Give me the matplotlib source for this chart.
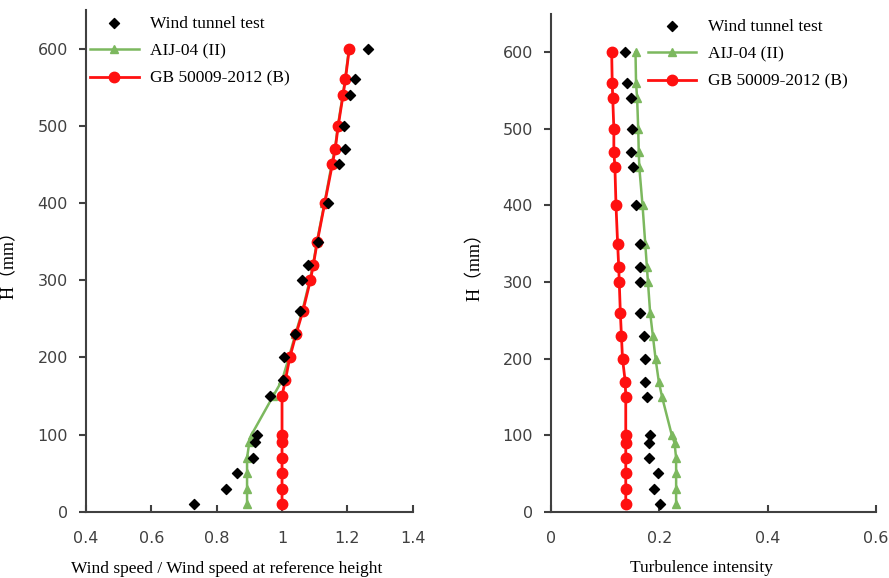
import matplotlib
matplotlib.use("Agg")
import matplotlib.pyplot as plt

heights = [10, 30, 50, 70, 90, 100, 150, 170, 200, 230, 260,
           300, 320, 350, 400, 450, 470, 500, 540, 560, 600]

# mean wind speed profile (normalised)
speed_test = [0.731, 0.828, 0.861, 0.910, 0.918, 0.922, 0.964, 1.002, 1.005, 1.039, 1.056,
              1.061, 1.080, 1.111, 1.141, 1.174, 1.194, 1.191, 1.208, 1.224, 1.262]
speed_aij = [0.893, 0.893, 0.893, 0.893, 0.900, 0.907, 0.973, 1.000, 1.021, 1.041, 1.062,
             1.085, 1.095, 1.107, 1.130, 1.152, 1.162, 1.171, 1.186, 1.193, 1.205]
speed_gb = [1.000, 1.000, 1.000, 1.000, 1.000, 1.000, 1.000, 1.010, 1.024, 1.043, 1.064,
            1.087, 1.096, 1.108, 1.131, 1.154, 1.163, 1.172, 1.187, 1.194, 1.206]

# turbulence intensity profile
ti_test = [0.202, 0.190, 0.197, 0.181, 0.181, 0.183, 0.177, 0.173, 0.173, 0.171, 0.165,
           0.164, 0.164, 0.164, 0.156, 0.152, 0.148, 0.150, 0.147, 0.141, 0.137]
ti_aij = [0.231, 0.231, 0.231, 0.231, 0.228, 0.223, 0.205, 0.199, 0.193, 0.188, 0.183,
          0.179, 0.177, 0.174, 0.169, 0.163, 0.162, 0.161, 0.159, 0.157, 0.156]
ti_gb = [0.138, 0.138, 0.138, 0.138, 0.138, 0.138, 0.138, 0.137, 0.132, 0.130, 0.128,
         0.126, 0.125, 0.123, 0.120, 0.118, 0.116, 0.116, 0.114, 0.113, 0.112]

labels = ["Wind tunnel test", "AIJ-04 (II)", "GB 50009-2012 (B)"]
speed_ticks = [0.4, 0.6, 0.8, 1, 1.2, 1.4]
ti_ticks = [0, 0.2, 0.4, 0.6]

serif = ["Liberation Serif", "Noto Sans CJK SC"]
green = "#7cb85e"
red = "#ff1010"
axcol = "#404040"

fig = plt.figure(figsize=(8.89, 5.78), dpi=100)
ax1 = fig.add_axes([86/889, 1-511.7/578, 326.7/889, 501.7/578])
ax2 = fig.add_axes([551/889, 1-511.7/578, 325/889, 497.7/578])


def draw(ax, test, aij, gb, xticks, xlabel, legend_x, legend_y, labelx):
    ax.plot(aij, heights, color=green, lw=1.8, marker="^", ms=6, zorder=2, label=labels[1])
    ax.plot(gb, heights, color=red, lw=2, marker="o", ms=7.5, zorder=3, label=labels[2])
    ax.scatter(test, heights, color="black", marker="D", s=26, zorder=4, label=labels[0])
    ax.set_xlim(xticks[0], xticks[-1])
    ax.set_ylim(0, 650)
    ax.set_xticks(xticks)
    ax.set_xticklabels([("%g" % t) for t in xticks])
    ax.set_yticks(range(0, 601, 100))
    for s in ["top", "right"]:
        ax.spines[s].set_visible(False)
    for s in ["left", "bottom"]:
        ax.spines[s].set_color(axcol)
        ax.spines[s].set_linewidth(1.5)
    ax.tick_params(axis="x", direction="in", length=5, width=1.5, color=axcol,
                   labelcolor=axcol, labelsize=11.5, pad=14)
    ax.tick_params(axis="y", direction="out", length=5, width=1.5, color=axcol,
                   labelcolor=axcol, labelsize=11.5, pad=8)
    ax.set_xlabel(xlabel, family=serif, fontsize=12.5, color="black")
    ax.xaxis.set_label_coords(labelx, -0.098)
    ax.set_ylabel("H（mm）", family=serif, fontsize=13, color="black")
    ax.yaxis.set_label_coords(-0.208, 0.5)
    h, l = ax.get_legend_handles_labels()
    order = [2, 0, 1]
    ax.legend([h[i] for i in order], [l[i] for i in order], loc="upper left",
              bbox_to_anchor=(legend_x, legend_y), frameon=False, handlelength=2.8,
              handletextpad=0.65, labelspacing=0.65, prop={"family": serif, "size": 12.5})


draw(ax1, speed_test, speed_aij, speed_gb, speed_ticks,
     "Wind speed / Wind speed at reference height", -0.035, 1.02, 0.43)
draw(ax2, ti_test, ti_aij, ti_gb, ti_ticks, "Turbulence intensity", 0.25, 1.022, 0.463)

fig.savefig("out.png", dpi=100)
